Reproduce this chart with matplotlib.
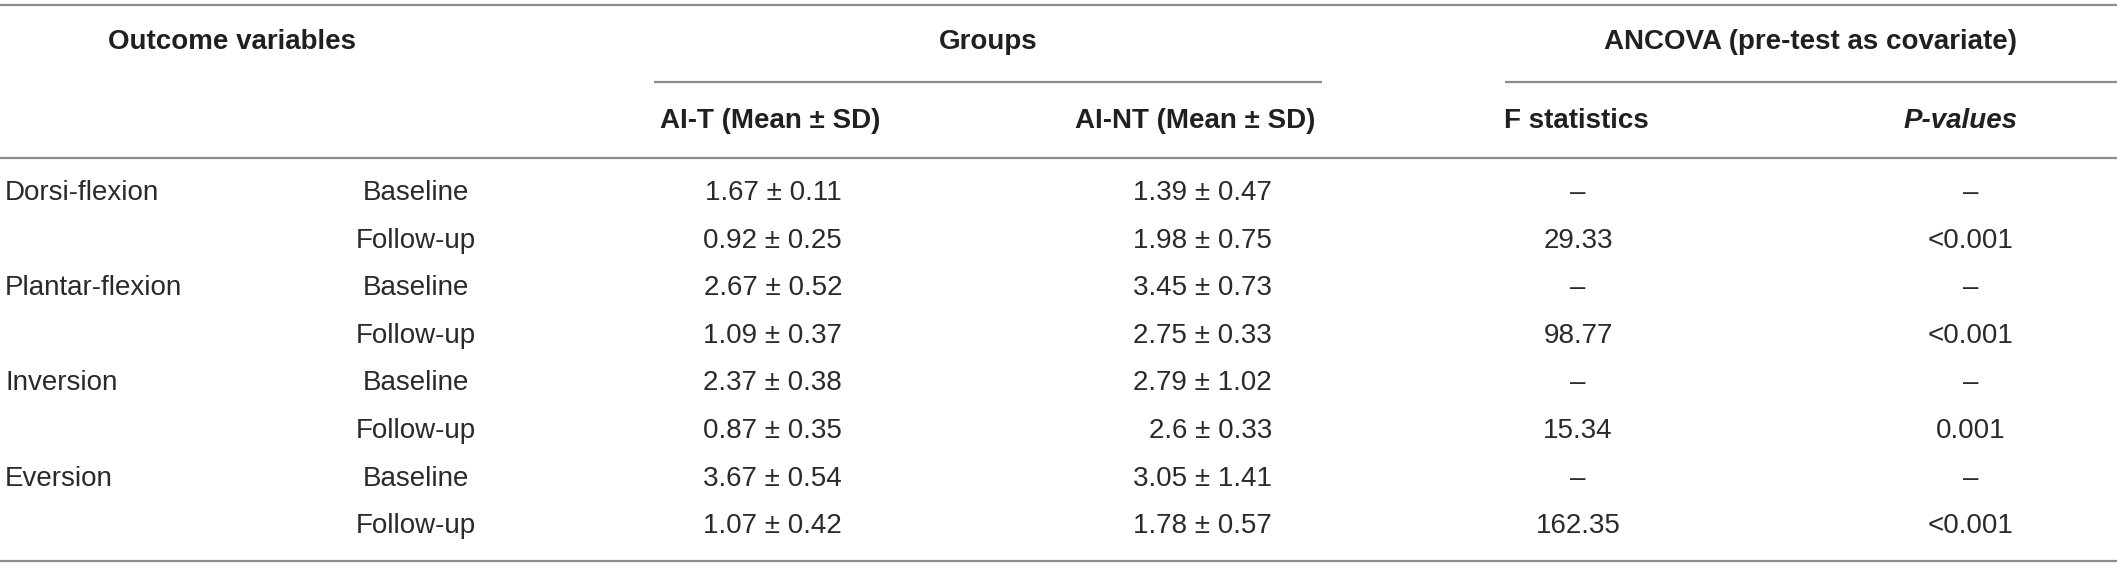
import matplotlib.pyplot as plt

plt.rc('font', family='Liberation Sans')

# ---------------- table content ----------------
measures = ['Dorsi-flexion', 'Plantar-flexion', 'Inversion', 'Eversion']
times = ['Baseline', 'Follow-up']
ait_mean = [1.67, 0.92, 2.67, 1.09, 2.37, 0.87, 3.67, 1.07]
ait_sd = [0.11, 0.25, 0.52, 0.37, 0.38, 0.35, 0.54, 0.42]
aint_mean = ['1.39', '1.98', '3.45', '2.75', '2.79', '2.6', '3.05', '1.78']
aint_sd = [0.47, 0.75, 0.73, 0.33, 1.02, 0.33, 1.41, 0.57]
f_stats = ['–', '29.33', '–', '98.77', '–', '15.34', '–', '162.35']
p_values = ['–', '<0.001', '–', '<0.001', '–', '0.001', '–', '<0.001']

W, H = 2117, 567
fig = plt.figure(figsize=(W / 100, H / 100), dpi=100)
ax = fig.add_axes([0, 0, 1, 1])
ax.set_xlim(0, W)
ax.set_ylim(H, 0)
ax.axis('off')

line_col = '#8c8c8c'
txt_col = '#231f20'
body_col = '#2a2a2a'
fs = 20

# rules
ax.hlines([5, 158, 561], 0, W, color=line_col, lw=1.6)
ax.hlines(82, 654, 1322, color=line_col, lw=1.6)
ax.hlines(82, 1505, W, color=line_col, lw=1.6)

# header row 1
hy1, hy2 = 42, 121
ax.text(232, hy1, 'Outcome variables', ha='center', va='center', fontsize=fs, fontweight='bold', color=txt_col)
ax.text(988, hy1, 'Groups', ha='center', va='center', fontsize=fs, fontweight='bold', color=txt_col)
ax.text(1811, hy1, 'ANCOVA (pre-test as covariate)', ha='center', va='center', fontsize=fs, fontweight='bold', color=txt_col)

# header row 2
ax.text(770, hy2, 'AI-T (Mean ± SD)', ha='center', va='center', fontsize=fs, fontweight='bold', color=txt_col)
ax.text(1195, hy2, 'AI-NT (Mean ± SD)', ha='center', va='center', fontsize=fs, fontweight='bold', color=txt_col)
ax.text(1576, hy2, 'F statistics', ha='center', va='center', fontsize=fs, fontweight='bold', color=txt_col)
ax.text(1961, hy2, 'P-values', ha='center', va='center', fontsize=fs, fontweight='bold', style='italic', color=txt_col)

# body rows
y0, dy = 193, 47.6
for i in range(8):
    y = y0 + i * dy
    if i % 2 == 0:
        ax.text(5, y, measures[i // 2], ha='left', va='center', fontsize=fs, color=body_col)
    ax.text(416, y, times[i % 2], ha='center', va='center', fontsize=fs, color=body_col)
    ax.text(842, y, f'{ait_mean[i]:.2f} ± {ait_sd[i]:.2f}', ha='right', va='center', fontsize=fs, color=body_col)
    ax.text(1272, y, f'{aint_mean[i]} ± {aint_sd[i]:.2f}', ha='right', va='center', fontsize=fs, color=body_col)
    ax.text(1578, y, f_stats[i], ha='center', va='center', fontsize=fs, color=body_col)
    ax.text(1971, y, p_values[i], ha='center', va='center', fontsize=fs, color=body_col)

fig.savefig('out.png', dpi=100)
